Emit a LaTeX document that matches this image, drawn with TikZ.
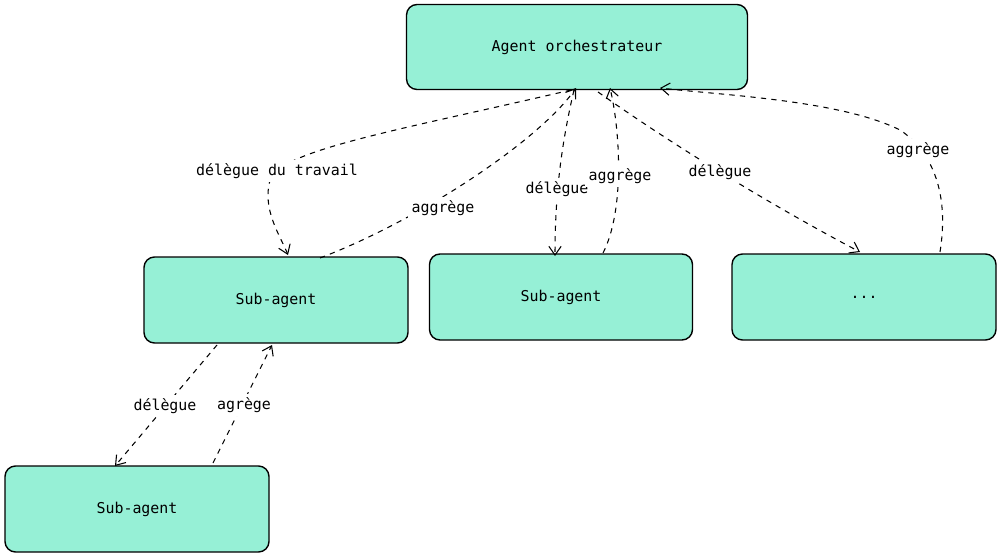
\documentclass[tikz,border=0pt]{standalone}
\usepackage{fontspec}
\setmainfont{DejaVu Sans Mono}
\usetikzlibrary{arrows.meta}
\definecolor{boxfill}{HTML}{96F0D6}
\begin{document}
\begin{tikzpicture}[x=0.02cm,y=-0.02cm,
  box/.style={draw=black,line width=0.8pt,fill=boxfill,rounded corners=6pt,font=\fontsize{8.5}{10}\selectfont},
  conn/.style={draw=black,dashed,line width=0.6pt,-{Straight Barb[length=5pt,width=7pt]}},
  lbl/.style={fill=white,inner sep=2pt,font=\fontsize{8.5}{10}\selectfont}]
\useasboundingbox (0,0) rectangle (1000,557);
\node[box,minimum width=341*0.02cm,minimum height=85*0.02cm] (orch) at (577,47) {Agent orchestrateur};
\node[box,minimum width=264*0.02cm,minimum height=86*0.02cm] (s1) at (276,300) {Sub-agent};
\node[box,minimum width=263*0.02cm,minimum height=86*0.02cm] (s2) at (561,297) {Sub-agent};
\node[box,minimum width=264*0.02cm,minimum height=86*0.02cm] (s4) at (864,297) {...};
\node[box,minimum width=264*0.02cm,minimum height=86*0.02cm] (s3) at (137,509) {Sub-agent};
% anchor coordinates
\coordinate (oA) at (571,90);
\coordinate (oB) at (576,88);
\coordinate (oC) at (574,90);
\coordinate (oD) at (610,88);
\coordinate (oE) at (598,92);
\coordinate (oF) at (660,88);
\coordinate (s1t) at (288,255);
\coordinate (s1a) at (320,258);
\coordinate (s1b) at (217,345);
\coordinate (s1c) at (272,345);
\coordinate (s2a) at (555,256);
\coordinate (s2b) at (603,253);
\coordinate (s4a) at (860,252);
\coordinate (s4b) at (940,252);
\coordinate (s3a) at (115,466);
\coordinate (s3b) at (213,463);
\draw[conn] (oA) .. controls (400,130) and (280,150) .. (270,180) .. controls (262,210) and (280,235) .. (s1t);
\node[lbl] at (277,171) {délègue du travail};
\draw[conn] (s1a) .. controls (420,220) and (540,140) .. (oB);
\node[lbl] at (443,208) {aggrège};
\draw[conn] (oC) .. controls (560,150) and (555,200) .. (s2a);
\node[lbl] at (557,189) {délègue};
\draw[conn] (s2b) .. controls (625,210) and (620,130) .. (oD);
\node[lbl] at (620,176) {aggrège};
\draw[conn] (oE) .. controls (680,150) and (780,210) .. (s4a);
\node[lbl] at (720,172) {délègue};
\draw[conn] (s4b) .. controls (950,190) and (930,150) .. (900,130) .. controls (840,100) and (720,95) .. (oF);
\node[lbl] at (918,150) {aggrège};
\draw[conn] (s1b) -- (s3a);
\node[lbl] at (165,406) {délègue};
\draw[conn] (s3b) -- (s1c);
\node[lbl] at (244,405) {agrège};
\end{tikzpicture}
\end{document}
